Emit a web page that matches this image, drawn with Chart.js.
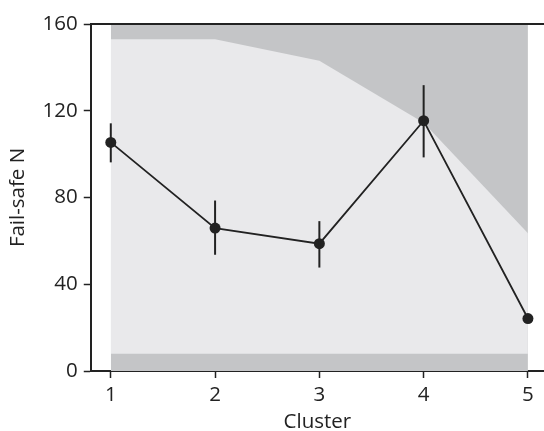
<!DOCTYPE html>
<html>
<head>
<meta charset="utf-8">
<script src="https://cdn.jsdelivr.net/npm/chart.js@4/dist/chart.umd.min.js"></script>
<style>
html,body{margin:0;padding:0;background:#fff;}
#wrap{width:544px;height:431px;}
</style>
</head>
<body>
<div id="wrap"><canvas id="c" width="544" height="431"></canvas></div>
<script>
const clusters = [1, 2, 3, 4, 5];
const failSafeN = [105.4, 65.9, 58.7, 115.4, 24.2];
const errLow = [96.2, 53.6, 47.7, 98.5, 24.2];
const errHigh = [114.2, 78.6, 69.1, 131.8, 24.2];
const bandUpper = [153, 153, 143, 114.5, 63.5];
const bandLower = [8, 8, 8, 8, 8];
const outerTop = [160, 160, 160, 160, 160];
const yTicks = [0, 40, 80, 120, 160];

const ink = '#222222';
const fontFam = "'Open Sans', 'Noto Sans', sans-serif";
const fs = 20.5;

const toPts = arr => clusters.map((c, i) => ({x: c, y: arr[i]}));

const errorBars = {
  id: 'errorBars',
  afterDatasetsDraw(chart) {
    const ctx = chart.ctx, xs = chart.scales.x, ys = chart.scales.y;
    ctx.save();
    ctx.strokeStyle = ink;
    ctx.lineWidth = 2;
    clusters.forEach((c, i) => {
      if (errHigh[i] === errLow[i]) return;
      const px = xs.getPixelForValue(c);
      ctx.beginPath();
      ctx.moveTo(px, ys.getPixelForValue(errLow[i]));
      ctx.lineTo(px, ys.getPixelForValue(errHigh[i]));
      ctx.stroke();
    });
    // top frame line at the axis maximum
    const yTop = ys.getPixelForValue(ys.max);
    ctx.lineWidth = 2;
    ctx.beginPath();
    ctx.moveTo(chart.chartArea.left, yTop);
    ctx.lineTo(chart.width, yTop);
    ctx.stroke();
    ctx.restore();
  }
};

new Chart(document.getElementById('c'), {
  type: 'line',
  data: {
    datasets: [
      {
        label: 'Fail-safe N',
        data: toPts(failSafeN),
        borderColor: ink,
        backgroundColor: ink,
        borderWidth: 1.8,
        pointRadius: 5.5,
        pointBackgroundColor: ink,
        pointBorderWidth: 0,
        fill: false,
        order: 0
      },
      {
        label: 'band upper',
        data: toPts(bandUpper),
        borderWidth: 0,
        pointRadius: 0,
        backgroundColor: '#e9e9eb',
        fill: {target: 2},
        order: 1
      },
      {
        label: 'band lower',
        data: toPts(bandLower),
        borderWidth: 0,
        pointRadius: 0,
        fill: false,
        order: 2
      },
      {
        label: 'outer',
        data: toPts(outerTop),
        borderWidth: 0,
        pointRadius: 0,
        backgroundColor: '#c4c5c7',
        fill: 'origin',
        order: 3
      }
    ]
  },
  plugins: [errorBars],
  options: {
    responsive: false,
    animation: false,
    layout: {autoPadding: false, padding: {top: 24, right: 0, left: 6, bottom: 0}},
    plugins: {legend: {display: false}, tooltip: {enabled: false}},
    scales: {
      x: {
        type: 'linear',
        min: 0.808,
        max: 5.154,
        afterBuildTicks: s => { s.ticks = clusters.map(v => ({value: v})); },
        afterFit: s => { s.paddingRight = 0; s.height = 60; },
        ticks: {color: ink, font: {family: fontFam, size: fs}, padding: 5, maxRotation: 0},
        grid: {drawOnChartArea: false, drawTicks: true, tickLength: 7, tickColor: ink, tickWidth: 1.5},
        border: {display: true, color: ink, width: 2},
        title: {display: true, text: 'Cluster', color: ink, font: {family: fontFam, size: fs}, padding: {top: 1, bottom: -3}}
      },
      y: {
        min: 0,
        max: 160,
        afterBuildTicks: s => { s.ticks = yTicks.map(v => ({value: v})); },
        ticks: {color: ink, font: {family: fontFam, size: fs}, padding: 6},
        grid: {drawOnChartArea: false, drawTicks: true, tickLength: 7, tickColor: ink, tickWidth: 1.5},
        border: {display: true, color: ink, width: 2},
        title: {display: true, text: 'Fail-safe N', color: ink, font: {family: fontFam, size: fs}, padding: {top: 0, bottom: 6}}
      }
    }
  }
});
</script>
</body>
</html>
